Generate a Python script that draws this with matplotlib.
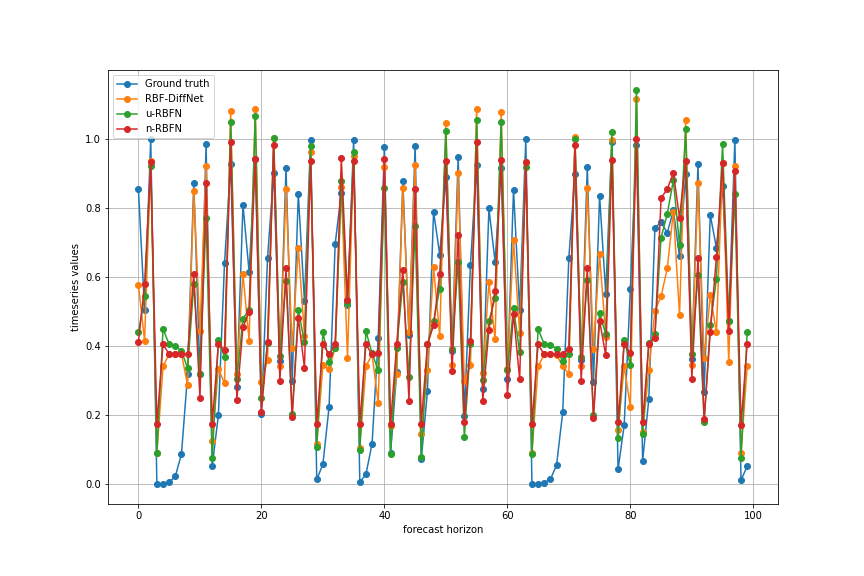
import matplotlib
matplotlib.use('Agg')
import matplotlib.pyplot as plt
import numpy as np

horizon = np.arange(100)

ground_truth = [0.854, 0.504, 1.0, 0.0, 0.0, 0.006, 0.023, 0.088, 0.32, 0.873,
                0.32, 0.986, 0.053, 0.20, 0.64, 0.927, 0.281, 0.81, 0.615, 0.943,
                0.205, 0.656, 0.902, 0.357, 0.916, 0.30, 0.841, 0.53, 0.997, 0.014,
                0.058, 0.223, 0.697, 0.845, 0.52, 0.997, 0.006, 0.029, 0.118, 0.425,
                0.978, 0.09, 0.326, 0.877, 0.432, 0.981, 0.072, 0.27, 0.79, 0.665,
                0.891, 0.385, 0.949, 0.197, 0.636, 0.926, 0.276, 0.799, 0.645, 0.916,
                0.306, 0.853, 0.504, 1.0, 0.0, 0.0, 0.005, 0.014, 0.056, 0.208,
                0.656, 0.90, 0.359, 0.92, 0.295, 0.836, 0.552, 0.99, 0.043, 0.171,
                0.565, 0.984, 0.067, 0.246, 0.743, 0.759, 0.728, 0.793, 0.66, 0.899,
                0.364, 0.928, 0.266, 0.78, 0.685, 0.864, 0.472, 0.997, 0.012, 0.052]

rbf_diffnet = [0.576, 0.416, 0.935, 0.09, 0.342, 0.377, 0.377, 0.377, 0.287, 0.85,
               0.443, 0.923, 0.125, 0.335, 0.292, 1.082, 0.32, 0.61, 0.416, 1.087,
               0.295, 0.361, 1.002, 0.342, 0.856, 0.395, 0.685, 0.43, 0.961, 0.116,
               0.345, 0.335, 0.395, 0.86, 0.365, 0.951, 0.106, 0.342, 0.376, 0.234,
               0.92, 0.169, 0.319, 0.858, 0.441, 0.926, 0.147, 0.33, 0.628, 0.429,
               1.046, 0.345, 0.902, 0.298, 0.345, 1.087, 0.323, 0.585, 0.42, 1.078,
               0.333, 0.708, 0.438, 0.933, 0.09, 0.342, 0.376, 0.376, 0.374, 0.342,
               0.32, 1.005, 0.342, 0.858, 0.392, 0.666, 0.428, 0.998, 0.156, 0.342,
               0.225, 1.116, 0.15, 0.33, 0.503, 0.544, 0.625, 0.79, 0.49, 1.055,
               0.345, 0.873, 0.367, 0.547, 0.44, 0.93, 0.353, 0.923, 0.09, 0.342]

u_rbfn = [0.44, 0.544, 0.923, 0.09, 0.45, 0.405, 0.40, 0.386, 0.336, 0.579,
          0.32, 0.772, 0.075, 0.417, 0.369, 1.05, 0.306, 0.48, 0.506, 1.067,
          0.249, 0.409, 1.002, 0.371, 0.59, 0.205, 0.504, 0.412, 0.981, 0.107,
          0.441, 0.355, 0.395, 0.877, 0.525, 0.963, 0.099, 0.443, 0.379, 0.33,
          0.858, 0.089, 0.395, 0.585, 0.312, 0.747, 0.08, 0.405, 0.472, 0.566,
          1.023, 0.393, 0.645, 0.136, 0.405, 1.055, 0.302, 0.472, 0.54, 1.05,
          0.33, 0.512, 0.382, 0.92, 0.088, 0.449, 0.406, 0.403, 0.393, 0.356,
          0.378, 1.0, 0.369, 0.593, 0.20, 0.497, 0.434, 1.019, 0.133, 0.419,
          0.345, 1.142, 0.147, 0.408, 0.434, 0.714, 0.783, 0.88, 0.692, 1.029,
          0.376, 0.607, 0.179, 0.46, 0.595, 0.986, 0.473, 0.841, 0.075, 0.44]

n_rbfn = [0.411, 0.579, 0.932, 0.176, 0.405, 0.377, 0.377, 0.377, 0.377, 0.61,
          0.25, 0.873, 0.176, 0.405, 0.39, 0.992, 0.244, 0.455, 0.50, 0.943,
          0.21, 0.412, 0.983, 0.298, 0.625, 0.194, 0.483, 0.337, 0.936, 0.176,
          0.405, 0.376, 0.405, 0.945, 0.535, 0.936, 0.176, 0.405, 0.376, 0.38,
          0.942, 0.176, 0.405, 0.622, 0.241, 0.854, 0.176, 0.405, 0.46, 0.61,
          0.937, 0.328, 0.723, 0.179, 0.414, 0.991, 0.241, 0.448, 0.561, 0.939,
          0.258, 0.494, 0.304, 0.933, 0.176, 0.405, 0.376, 0.376, 0.376, 0.376,
          0.393, 0.983, 0.298, 0.627, 0.191, 0.474, 0.373, 0.939, 0.179, 0.405,
          0.38, 1.0, 0.181, 0.406, 0.425, 0.829, 0.855, 0.902, 0.772, 0.936,
          0.306, 0.656, 0.188, 0.44, 0.658, 0.931, 0.444, 0.908, 0.173, 0.405]

fig = plt.figure(figsize=(12, 8), dpi=72)
plt.subplots_adjust(bottom=0.125, top=0.878)
plt.plot(horizon, ground_truth, marker='o', label="Ground truth")
plt.plot(horizon, rbf_diffnet, marker='o', label="RBF-DiffNet")
plt.plot(horizon, u_rbfn, marker='o', label="u-RBFN")
plt.plot(horizon, n_rbfn, marker='o', label="n-RBFN")
plt.legend(loc="upper left")
plt.grid()
plt.xlabel("forecast horizon")
plt.ylabel("timeseries values")
plt.savefig("out.png", dpi=72)
